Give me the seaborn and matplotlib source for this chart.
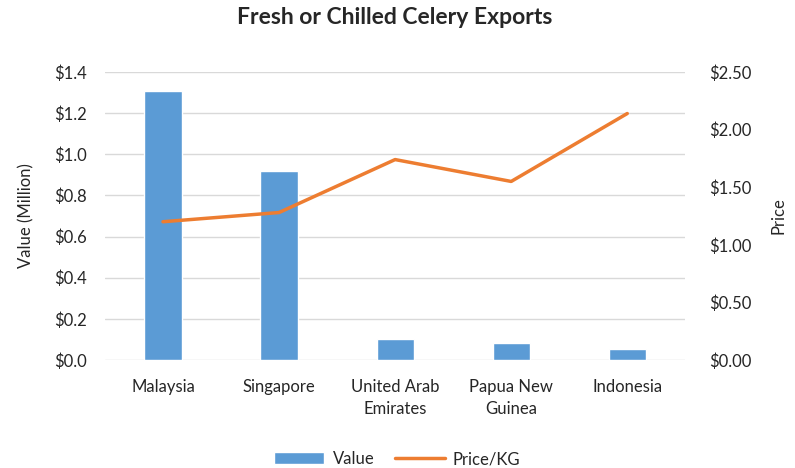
import pandas as pd
import seaborn as sns
import matplotlib.pyplot as plt
from matplotlib.patches import Patch
from matplotlib.lines import Line2D
from matplotlib.ticker import FuncFormatter

# Data
countries = ["Malaysia", "Singapore", "United Arab\nEmirates", "Papua New\nGuinea", "Indonesia"]
value_million = [1.31, 0.92, 0.10, 0.083, 0.053]
price_per_kg = [1.20, 1.28, 1.74, 1.55, 2.14]

df = pd.DataFrame({"country": countries, "value": value_million, "price": price_per_kg})

bar_color = "#5B9BD5"
line_color = "#ED7D31"

sns.set_style("white")
plt.rcParams["font.family"] = ["Lato", "DejaVu Sans"]

fig = plt.figure(figsize=(7.95, 4.68), dpi=100)
ax = fig.add_axes([0.132, 0.231, 0.730, 0.615])

sns.barplot(data=df, x="country", y="value", color=bar_color, width=0.32,
            saturation=1, ax=ax, zorder=3)
ax.set_ylim(0, 1.4)
ax.set_yticks([0, 0.2, 0.4, 0.6, 0.8, 1.0, 1.2, 1.4])
ax.yaxis.set_major_formatter(FuncFormatter(lambda v, p: f"${v:.1f}"))
ax.set_xlim(-0.5, len(countries) - 0.5)
ax.grid(axis="y", color="#D9D9D9", linewidth=1, zorder=0)
ax.set_axisbelow(True)
ax.set_xlabel("")
ax.set_ylabel("Value (Million)", fontsize=12, color="#262626", labelpad=14)
ax.tick_params(axis="y", labelsize=12, colors="#262626", length=0, pad=13)
ax.tick_params(axis="x", labelsize=12, colors="#262626", length=0, pad=14)
for lbl in ax.get_xticklabels():
    lbl.set_linespacing(1.45)
for s in ax.spines.values():
    s.set_visible(False)

ax2 = ax.twinx()
sns.lineplot(data=df, x="country", y="price", color=line_color, linewidth=2.5,
             ax=ax2, sort=False)
ax2.set_ylim(0, 2.5)
ax2.set_yticks([0, 0.5, 1.0, 1.5, 2.0, 2.5])
ax2.yaxis.set_major_formatter(FuncFormatter(lambda v, p: f"${v:.2f}"))
ax2.set_xlim(-0.5, len(countries) - 0.5)
ax2.set_ylabel("Price", fontsize=12, color="#262626", labelpad=14)
ax2.tick_params(axis="y", labelsize=12, colors="#262626", length=0, pad=17)
for s in ax2.spines.values():
    s.set_visible(False)

fig.suptitle("Fresh or Chilled Celery Exports", fontsize=16.5, fontweight="bold",
             y=0.985, x=0.497)

handles = [Patch(facecolor=bar_color, label="Value"),
           Line2D([0], [0], color=line_color, linewidth=2.5, label="Price/KG")]
fig.legend(handles=handles, loc="lower center", ncol=2, frameon=False,
           fontsize=12, bbox_to_anchor=(0.5, -0.03), handlelength=3,
           columnspacing=1.2, handletextpad=0.5)

fig.savefig("out.png", dpi=100)
